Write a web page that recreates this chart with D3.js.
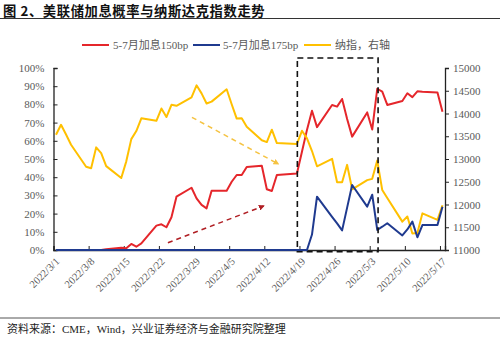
<!DOCTYPE html>
<html><head><meta charset="utf-8">
<script src="https://cdn.jsdelivr.net/npm/d3@7"></script>
<style>body{margin:0;background:#fff}svg{display:block}</style>
</head><body><svg id="c" width="500" height="337"></svg>
<script>
const dates = ["2022-03-01","2022-03-02","2022-03-03","2022-03-04","2022-03-07","2022-03-08","2022-03-09","2022-03-10","2022-03-11",
"2022-03-14","2022-03-15","2022-03-16","2022-03-17","2022-03-18","2022-03-21","2022-03-22","2022-03-23","2022-03-24","2022-03-25",
"2022-03-28","2022-03-29","2022-03-30","2022-03-31","2022-04-01","2022-04-04","2022-04-05","2022-04-06","2022-04-07","2022-04-08",
"2022-04-11","2022-04-12","2022-04-13","2022-04-14","2022-04-18","2022-04-19","2022-04-20","2022-04-21","2022-04-22",
"2022-04-25","2022-04-26","2022-04-27","2022-04-28","2022-04-29","2022-05-02","2022-05-03","2022-05-04","2022-05-05","2022-05-06",
"2022-05-09","2022-05-10","2022-05-11","2022-05-12","2022-05-13","2022-05-16","2022-05-17"];
const rate150 = [0,0,0,0,0,0,0,0,0.4,
1.2,0.9,3.3,1.8,3.6,13.4,14.1,12.5,18,29.3,
34.2,28.4,24.8,22.9,32.6,32.6,37.5,41.2,41.2,45.6,
46.3,33.4,32.4,41.2,42.0,54,66,76.5,67.5,
79.7,78.8,83,72,62.3,75.6,66.2,88.6,87,79.7,
81.9,86.1,84,87.2,87,86.6,76];
const rate175 = [0,0,0,0,0,0,0,0,0,
0,0,0,0,0,0,0,0,0,0,
0,0,0,0,0,0,0,0,0,0,
0,0,0,0,0,0,0,8.5,29.3,
18.2,14.6,10.8,23.3,35.7,23.8,30.4,11,12.8,14.7,
8,11.3,15.6,7,13.7,13.7,23.8];
const nasdaq = [13532.46,13752.02,13537.94,13313.44,12830.96,12795.55,13255.55,13129.96,12843.81,
12581.22,12948.62,13436.55,13614.78,13893.84,13838.46,14108.82,13922.60,14191.84,14169.30,
14354.90,14619.64,14442.28,14220.52,14261.50,14532.55,14204.17,13888.82,13897.30,13711.00,
13411.96,13371.57,13643.59,13351.08,13332.36,13619.66,13453.07,13174.65,12839.29,
13004.85,12490.74,12488.93,12871.53,12334.64,12536.02,12563.76,12964.86,12317.69,12144.66,
11623.25,11737.67,11364.24,11370.96,11805.00,11662.79,11984.52];
const leftTicks = [0,10,20,30,40,50,60,70,80,90,100];
const rightTicks = [11000,11500,12000,12500,13000,13500,14000,14500,15000];
const xTickDates = ["2022-03-01","2022-03-08","2022-03-15","2022-03-22","2022-03-29","2022-04-05","2022-04-12",
"2022-04-19","2022-04-26","2022-05-03","2022-05-10","2022-05-17"];
const seriesNames = ["5-7月加息150bp","5-7月加息175bp","纳指，右轴"];
const titleText = "图 2、美联储加息概率与纳斯达克指数走势";
const sourceText = "资料来源：CME，Wind，兴业证券经济与金融研究院整理";

const parse = d3.utcParse("%Y-%m-%d");
const fmt = d3.utcFormat("%Y/%-m/%-d");
const svg = d3.select("#c");
const serif = "'Liberation Serif','Times New Roman','Noto Sans CJK SC',serif";
const cjk = "'Liberation Serif','Noto Sans CJK SC',sans-serif";
const RED = "#E5262B", BLUE = "#1F3A8F", YEL = "#FFC000";

const L = 53.5, R = 445, T = 68, B = 250;
const x = d3.scaleUtc().domain([parse("2022-03-01"), parse("2022-05-18")]).range([L, R]);
const yL = d3.scaleLinear().domain([0, 100]).range([B, T]);
const yR = d3.scaleLinear().domain([11000, 15000]).range([B, T]);
const xc = d => x(d3.utcHour.offset(parse(d), 12));

// title
svg.append("text").attr("x", 3).attr("y", 15.6).attr("font-family", "'Noto Sans CJK SC',sans-serif")
  .attr("font-weight", "bold").attr("font-size", 13.3).attr("letter-spacing", 0.6).attr("fill", "#111").text(titleText);
svg.append("line").attr("x1", 0).attr("x2", 500).attr("y1", 18.5).attr("y2", 18.5).attr("stroke", "#333").attr("stroke-width", 1.2);

// axes
const gx = svg.append("g").attr("transform", `translate(0,${B})`)
  .call(d3.axisBottom(x).tickValues(xTickDates.map(parse)).tickSize(-4).tickFormat(fmt));
gx.select(".domain").attr("stroke", "#222").attr("stroke-width", 1.3);
gx.selectAll(".tick line").attr("stroke", "#222");
gx.selectAll(".tick text").attr("font-family", serif).attr("font-size", 10.5).attr("fill", "#595959")
  .attr("text-anchor", "end").attr("dy", 0).attr("transform", "translate(4,10) rotate(-45)");

const gl = svg.append("g").attr("transform", `translate(${L},0)`)
  .call(d3.axisLeft(yL).tickValues(leftTicks).tickSize(-4).tickPadding(9).tickFormat(d => d + "%"));
gl.select(".domain").attr("stroke", "#222").attr("stroke-width", 1.3);
gl.selectAll(".tick line").attr("stroke", "#222");
gl.selectAll(".tick text").attr("font-family", serif).attr("font-size", 11).attr("fill", "#595959");

const gr = svg.append("g").attr("transform", `translate(${R},0)`)
  .call(d3.axisRight(yR).tickValues(rightTicks).tickSize(4).tickPadding(4).tickFormat(d3.format("d")));
gr.select(".domain").attr("stroke", "#222").attr("stroke-width", 1.3);
gr.selectAll(".tick line").attr("stroke", "#222");
gr.selectAll(".tick text").attr("font-family", serif).attr("font-size", 11).attr("fill", "#595959");

// lines
const lineL = vals => d3.line().x((d, i) => xc(dates[i])).y(d => yL(d))(vals);
const lineR = vals => d3.line().x((d, i) => xc(dates[i])).y(d => yR(d))(vals);
svg.append("path").attr("d", lineL(rate150)).attr("fill", "none").attr("stroke", RED).attr("stroke-width", 2).attr("stroke-linejoin", "round");
svg.append("path").attr("d", lineR(nasdaq)).attr("fill", "none").attr("stroke", YEL).attr("stroke-width", 2).attr("stroke-linejoin", "round");
svg.append("path").attr("d", lineL(rate175)).attr("fill", "none").attr("stroke", BLUE).attr("stroke-width", 2).attr("stroke-linejoin", "round");

// annotations
const defs = svg.append("defs");
[["ay", "#F5C342"], ["ar", "#B01E23"]].forEach(([id, c]) => {
  defs.append("marker").attr("id", id).attr("viewBox", "0 0 10 10").attr("refX", 8).attr("refY", 5)
    .attr("markerWidth", 4).attr("markerHeight", 4).attr("orient", "auto")
    .append("path").attr("d", "M0,0L10,5L0,10z").attr("fill", c);
});
const d0 = parse("2022-03-01");
const dayX = n => x(d3.utcHour.offset(d0, n * 24));
svg.append("line").attr("x1", dayX(27.6)).attr("y1", yR(13916)).attr("x2", dayX(44.8)).attr("y2", yR(12890))
  .attr("stroke", "#F5C342").attr("stroke-width", 1.5).attr("stroke-dasharray", "5,4").attr("marker-end", "url(#ay)");
svg.append("line").attr("x1", dayX(22.8)).attr("y1", yL(4)).attr("x2", dayX(41.9)).attr("y2", yL(24.2))
  .attr("stroke", "#B01E23").attr("stroke-width", 1.5).attr("stroke-dasharray", "5,4").attr("marker-end", "url(#ar)");
svg.append("rect").attr("x", dayX(48.6)).attr("y", yL(105.5)).attr("width", dayX(64.7) - dayX(48.6))
  .attr("height", yL(-1) - yL(105.5)).attr("fill", "none").attr("stroke", "#111").attr("stroke-width", 1.6)
  .attr("stroke-dasharray", "6,4");

// legend
const leg = [[82, 113, RED], [193, 223, BLUE], [304, 335, YEL]];
leg.forEach(([lx, tx, c], i) => {
  svg.append("line").attr("x1", lx).attr("x2", lx + 27).attr("y1", 45).attr("y2", 45).attr("stroke", c).attr("stroke-width", 2);
  svg.append("text").attr("x", tx).attr("y", 49).attr("font-family", cjk).attr("font-size", 11).attr("fill", "#595959").text(seriesNames[i]);
});

// footer
svg.append("line").attr("x1", 0).attr("x2", 500).attr("y1", 318).attr("y2", 318).attr("stroke", "#555").attr("stroke-width", 1);
svg.append("text").attr("x", 7).attr("y", 333).attr("font-family", cjk).attr("font-size", 11).attr("fill", "#222").text(sourceText);
</script></body></html>
